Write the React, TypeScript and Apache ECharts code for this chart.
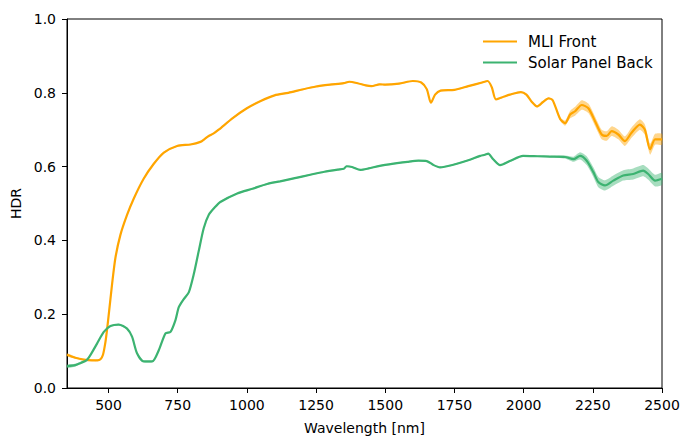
import React, { useEffect, useRef } from "react";
import * as echarts from "echarts";

const mliWave = [
  350, 380, 410, 440, 460, 471, 480, 489, 495, 501,
  513, 525, 543, 567, 591, 627, 663, 700, 748, 796,
  832, 848, 862, 880, 898, 950, 1000, 1050, 1100, 1150,
  1200, 1250, 1300, 1350, 1370, 1400, 1430, 1450, 1480, 1500,
  1550, 1600, 1630, 1650, 1665, 1680, 1700, 1750, 1800, 1850,
  1870, 1885, 1900, 1930, 1950, 1990, 2010, 2030, 2048, 2070,
  2090, 2105, 2132, 2150, 2168, 2186, 2210, 2234, 2258, 2282,
  2300, 2318, 2342, 2366, 2390, 2420, 2438, 2457, 2475, 2500,
];
const mliHdr = [
  0.09, 0.082, 0.077, 0.075, 0.075, 0.078, 0.09, 0.125, 0.16, 0.2,
  0.282, 0.353, 0.415, 0.469, 0.513, 0.567, 0.607, 0.638, 0.656, 0.66,
  0.667, 0.675, 0.683, 0.69, 0.70, 0.732, 0.758, 0.778, 0.793, 0.80,
  0.809, 0.817, 0.822, 0.826, 0.83, 0.826, 0.82, 0.818, 0.823, 0.822,
  0.825, 0.832, 0.828, 0.81, 0.773, 0.795, 0.806, 0.808, 0.818, 0.828,
  0.832, 0.815, 0.782, 0.79, 0.795, 0.802, 0.795, 0.775, 0.763, 0.775,
  0.785, 0.78, 0.729, 0.718, 0.741, 0.75, 0.767, 0.758, 0.723, 0.687,
  0.683, 0.696, 0.687, 0.669, 0.692, 0.714, 0.70, 0.647, 0.674, 0.674,
];
const mliErr = [
  0.004, 0.003, 0.002, 0.002, 0.002, 0.002, 0.002, 0.002, 0.002, 0.002,
  0.002, 0.002, 0.002, 0.002, 0.002, 0.002, 0.002, 0.002, 0.002, 0.002,
  0.002, 0.002, 0.002, 0.002, 0.002, 0.002, 0.002, 0.002, 0.002, 0.002,
  0.002, 0.002, 0.002, 0.002, 0.002, 0.002, 0.002, 0.002, 0.002, 0.002,
  0.002, 0.002, 0.002, 0.002, 0.002, 0.002, 0.002, 0.002, 0.002, 0.002,
  0.002, 0.002, 0.002, 0.002, 0.002, 0.002, 0.002, 0.002, 0.002, 0.002,
  0.002, 0.002, 0.005, 0.007, 0.01, 0.012, 0.013, 0.013, 0.013, 0.013,
  0.013, 0.013, 0.013, 0.013, 0.014, 0.014, 0.014, 0.015, 0.015, 0.015,
];

const spbWave = [
  350, 380, 400, 420, 435, 459, 483, 507, 537, 567,
  585, 603, 627, 658, 682, 706, 724, 742, 754, 772,
  790, 808, 826, 844, 862, 886, 904, 965, 1020, 1073,
  1120, 1169, 1229, 1280, 1330, 1350, 1360, 1380, 1410, 1440,
  1480, 1530, 1580, 1620, 1650, 1675, 1698, 1746, 1800, 1843,
  1860, 1872, 1890, 1915, 1950, 1998, 2050, 2095, 2150, 2180,
  2204, 2228, 2252, 2270, 2294, 2324, 2360, 2396, 2432, 2450,
  2475, 2500,
];
const spbHdr = [
  0.059, 0.062, 0.068, 0.075, 0.09, 0.121, 0.152, 0.168, 0.172, 0.161,
  0.139, 0.094, 0.072, 0.072, 0.103, 0.148, 0.152, 0.184, 0.219, 0.241,
  0.259, 0.308, 0.371, 0.433, 0.469, 0.491, 0.504, 0.527, 0.54, 0.553,
  0.56, 0.568, 0.578, 0.586, 0.592, 0.594, 0.601, 0.599, 0.591, 0.595,
  0.602, 0.608, 0.613, 0.616, 0.615, 0.604, 0.598, 0.605, 0.617, 0.629,
  0.632, 0.635, 0.62, 0.604, 0.615, 0.629, 0.628, 0.627, 0.626, 0.62,
  0.629, 0.616, 0.585, 0.558, 0.549, 0.562, 0.576, 0.58, 0.589, 0.58,
  0.562, 0.567,
];
const spbErr = [
  0.005, 0.004, 0.003, 0.002, 0.002, 0.002, 0.002, 0.002, 0.002, 0.002,
  0.002, 0.002, 0.002, 0.002, 0.002, 0.002, 0.002, 0.002, 0.002, 0.002,
  0.002, 0.002, 0.002, 0.002, 0.002, 0.002, 0.002, 0.002, 0.002, 0.002,
  0.002, 0.002, 0.002, 0.002, 0.002, 0.002, 0.002, 0.002, 0.002, 0.002,
  0.002, 0.002, 0.002, 0.002, 0.002, 0.002, 0.002, 0.002, 0.002, 0.002,
  0.002, 0.002, 0.002, 0.002, 0.002, 0.002, 0.002, 0.002, 0.004, 0.007,
  0.01, 0.012, 0.013, 0.014, 0.014, 0.014, 0.014, 0.015, 0.015, 0.015,
  0.016, 0.016,
];

const xTicks = [500, 750, 1000, 1250, 1500, 1750, 2000, 2250, 2500];
const yTicks = [0, 0.2, 0.4, 0.6, 0.8, 1.0];

const ORANGE = "#FFA500";
const GREEN = "#3CB371";
const FONT = "DejaVu Sans";

function bandSeries(name: string, wave: number[], val: number[], err: number[], color: string) {
  const data = wave.map((w, i) => [w, val[i] - err[i], val[i] + err[i]]);
  return {
    name: name + "_band",
    type: "custom",
    data,
    silent: true,
    encode: { x: 0, y: [1, 2] },
    renderItem: (params: any, api: any) => {
      if (params.dataIndex !== 0) return null;
      const upper: number[][] = [];
      const lower: number[][] = [];
      for (let i = 0; i < data.length; i++) {
        upper.push(api.coord([data[i][0], data[i][2]]));
        lower.push(api.coord([data[i][0], data[i][1]]));
      }
      const points = upper.concat(lower.reverse());
      return {
        type: "polygon",
        shape: { points, smooth: 0.2 },
        style: { fill: color, opacity: 0.45 },
      };
    },
  };
}

export default function App() {
  const ref = useRef<HTMLDivElement>(null);
  useEffect(() => {
    if (!ref.current) return;
    const chart = echarts.init(ref.current, null, { renderer: "svg" });
    chart.setOption({
      animation: false,
      backgroundColor: "#fff",
      textStyle: { fontFamily: FONT },
      grid: { left: 67, right: 21, top: 19, bottom: 48, show: true, borderColor: "#000", borderWidth: 1, backgroundColor: "transparent" },
      legend: {
        data: ["MLI Front", "Solar Panel Back"],
        orient: "vertical",
        left: 478,
        top: 29,
        icon: "rect",
        itemWidth: 34,
        itemHeight: 2,
        itemGap: 6,
        textStyle: { fontFamily: FONT, fontSize: 15, color: "#000", padding: [0, 0, 0, 6] },
      },
      xAxis: {
        type: "value",
        min: 350,
        max: 2500,
        name: "Wavelength [nm]",
        nameLocation: "middle",
        nameGap: 33,
        nameTextStyle: { fontFamily: FONT, fontSize: 14, color: "#000" },
        axisLine: { show: true, onZero: false, lineStyle: { color: "#000", width: 1 } },
        axisTick: { show: true, length: 5, lineStyle: { color: "#000" }, customValues: xTicks },
        axisLabel: { fontFamily: FONT, fontSize: 14, color: "#000", margin: 10, customValues: xTicks, formatter: (v: number) => String(v) },
        splitLine: { show: false },
      },
      yAxis: {
        type: "value",
        min: 0,
        max: 1,
        interval: 0.2,
        name: "HDR",
        nameLocation: "middle",
        nameGap: 43,
        nameTextStyle: { fontFamily: FONT, fontSize: 14, color: "#000" },
        axisLine: { show: true, lineStyle: { color: "#000", width: 1 } },
        axisTick: { show: true, length: 5, lineStyle: { color: "#000" }, customValues: yTicks },
        axisLabel: { fontFamily: FONT, fontSize: 14, color: "#000", margin: 11, customValues: yTicks, formatter: (v: number) => v.toFixed(1) },
        splitLine: { show: false },
      },
      series: [
        bandSeries("mli", mliWave, mliHdr, mliErr, ORANGE),
        {
          name: "MLI Front",
          type: "line",
          data: mliWave.map((w, i) => [w, mliHdr[i]]),
          symbol: "none",
          smooth: 0.25,
          color: ORANGE,
          lineStyle: { color: ORANGE, width: 2.2 },
        },
        bandSeries("spb", spbWave, spbHdr, spbErr, GREEN),
        {
          name: "Solar Panel Back",
          type: "line",
          data: spbWave.map((w, i) => [w, spbHdr[i]]),
          symbol: "none",
          smooth: 0.25,
          color: GREEN,
          lineStyle: { color: GREEN, width: 2.2 },
        },
      ],
    });
    return () => chart.dispose();
  }, []);
  return <div ref={ref} style={{ width: 683, height: 440, position: "absolute", left: 0, top: 0 }} />;
}
